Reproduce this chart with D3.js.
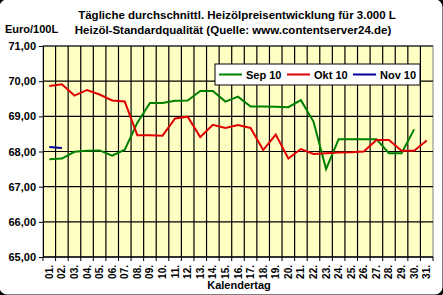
<!DOCTYPE html>
<head>
<meta charset="utf-8">
<title>Heizölpreisentwicklung</title>
<style>
  body { margin: 0; background: #fff; }
  svg { display: block; font-family: "Liberation Sans", Arial, sans-serif; font-weight: bold; }
</style>
</head>
<body>
<svg width="443" height="295"></svg>
<script src="https://d3js.org/d3.v7.min.js"></script>
<script>

    // tick labels / categories
    const days = ["01.", "02.", "03.", "04.", "05.", "06.", "07.", "08.", "09.", "10.",
                  "11.", "12.", "13.", "14.", "15.", "16.", "17.", "18.", "19.", "20.",
                  "21.", "22.", "23.", "24.", "25.", "26.", "27.", "28.", "29.", "30.", "31."];
    const yTicks = [65, 66, 67, 68, 69, 70, 71];

    // series values (Euro/100L)
    const sep10 = [67.78, 67.80, 67.99, 68.02, 68.03, 67.88, 68.05, 68.82, 69.38, 69.38,
                   69.44, 69.45, 69.72, 69.72, 69.42, 69.56, 69.28, 69.28, 69.27, 69.26,
                   69.46, 68.85, 67.50, 68.35, 68.35, 68.35, 68.35, 67.95, 67.95, 68.63, null];
    const okt10 = [69.86, 69.91, 69.59, 69.75, 69.62, 69.45, 69.42, 68.46, 68.46, 68.45,
                   68.94, 68.99, 68.41, 68.76, 68.67, 68.75, 68.67, 68.04, 68.48, 67.80,
                   68.07, 67.93, 67.95, 67.97, 67.98, 68.00, 68.33, 68.33, 68.02, 68.02, 68.31];
    const nov10 = [68.13, 68.10];

    const seriesNames = ["Sep 10", "Okt 10", "Nov 10"];
    const seriesColors = ["#008000", "#e00000", "#000099"];
    const seriesValues = [sep10, okt10, nov10];

    const svg = d3.select("svg");
    const W = +svg.attr("width"), H = +svg.attr("height");
    const plot = { left: 43, right: 433, top: 46, bottom: 257 };

    const x = d3.scaleBand().domain(days).range([plot.left, plot.right]).padding(0);
    const y = d3.scaleLinear().domain([65, 71]).range([plot.bottom, plot.top]);
    const fmt = d3.formatLocale({ decimal: ",", thousands: ".", grouping: [3], currency: ["", "€"] }).format(".2f");

    // outer rounded frame (only corners visible, like the original)
    svg.append("rect")
        .attr("x", -2).attr("y", -2).attr("width", W + 3).attr("height", H + 3)
        .attr("rx", 9).attr("fill", "#fff").attr("stroke", "#000").attr("stroke-width", 3);

    // plot area
    svg.append("rect")
        .attr("x", plot.left).attr("y", plot.top)
        .attr("width", plot.right - plot.left).attr("height", plot.bottom - plot.top)
        .attr("fill", "#ffffc4").attr("stroke", "#808080").attr("stroke-width", 1);

    // vertical gridlines at category boundaries
    svg.append("g")
        .selectAll("line")
        .data(days.slice(1))
        .enter().append("line")
            .attr("x1", d => x(d)).attr("x2", d => x(d))
            .attr("y1", plot.top).attr("y2", plot.bottom)
            .attr("stroke", "#000").attr("stroke-width", 1.2);

    // horizontal gridlines
    svg.append("g")
        .selectAll("line")
        .data(yTicks)
        .enter().append("line")
            .attr("x1", plot.left).attr("x2", plot.right)
            .attr("y1", d => y(d)).attr("y2", d => y(d))
            .attr("stroke", "#000").attr("stroke-width", 1.2);

    // y axis
    const yAxis = svg.append("g")
        .attr("transform", "translate(" + plot.left + ",0)")
        .call(d3.axisLeft(y).tickValues(yTicks).tickFormat(fmt).tickSize(4).tickPadding(3));
    yAxis.selectAll("text").attr("font-size", 11).attr("font-family", "Liberation Sans, Arial").attr("font-weight", "bold").attr("fill", "#000");
    yAxis.selectAll("line").attr("stroke", "#000");
    yAxis.select(".domain").attr("stroke", "#000");

    // x axis: ticks at boundaries, labels rotated in band centres
    const xAxis = svg.append("g")
        .attr("transform", "translate(0," + plot.bottom + ")");
    xAxis.append("line")
        .attr("x1", plot.left).attr("x2", plot.right)
        .attr("stroke", "#000");
    xAxis.selectAll(".tick")
        .data(days.concat([null]))
        .enter().append("line")
            .attr("class", "tick")
            .attr("x1", (d, i) => plot.left + i * x.step())
            .attr("x2", (d, i) => plot.left + i * x.step())
            .attr("y1", 0).attr("y2", 4)
            .attr("stroke", "#000");
    xAxis.selectAll("text")
        .data(days)
        .enter().append("text")
            .attr("transform", d => "translate(" + (x(d) + x.bandwidth() / 2 + 3.5) + ",8) rotate(-90)")
            .attr("text-anchor", "end")
            .attr("font-size", 10)
            .text(d => d);

    // lines
    const line = d3.line()
        .defined(d => d != null)
        .x((d, i) => x(days[i]) + x.bandwidth() / 2)
        .y(d => y(d));

    svg.append("g")
        .selectAll("path")
        .data(seriesValues)
        .enter().append("path")
            .attr("d", line)
            .attr("fill", "none")
            .attr("stroke", (d, i) => seriesColors[i])
            .attr("stroke-width", 2);

    // legend
    const lg = svg.append("g").attr("transform", "translate(215,64)");
    lg.append("rect").attr("width", 205).attr("height", 21)
        .attr("fill", "#fff").attr("stroke", "#000");
    const legendX = [4, 72, 138];
    const item = lg.selectAll("g.item")
        .data(seriesNames)
        .enter().append("g")
            .attr("class", "item")
            .attr("transform", (d, i) => "translate(" + legendX[i] + ",0)");
    item.append("line")
        .attr("x1", 0).attr("x2", 23).attr("y1", 10.5).attr("y2", 10.5)
        .attr("stroke", (d, i) => seriesColors[i]).attr("stroke-width", 2);
    item.append("text")
        .attr("x", 27).attr("y", 14.5)
        .attr("font-size", 11)
        .text(d => d);

    // titles
    svg.append("text").attr("x", 237).attr("y", 19).attr("text-anchor", "middle")
        .attr("font-size", 11.5).text("Tägliche durchschnittl. Heizölpreisentwicklung für 3.000 L");
    svg.append("text").attr("x", 233).attr("y", 34).attr("text-anchor", "middle")
        .attr("font-size", 11.5).text("Heizöl-Standardqualität (Quelle: www.contentserver24.de)");
    svg.append("text").attr("x", 5).attr("y", 33)
        .attr("font-size", 11).text("Euro/100L");
    svg.append("text").attr("x", 239).attr("y", 289).attr("text-anchor", "middle")
        .attr("font-size", 11).text("Kalendertag");

</script>
</body>
